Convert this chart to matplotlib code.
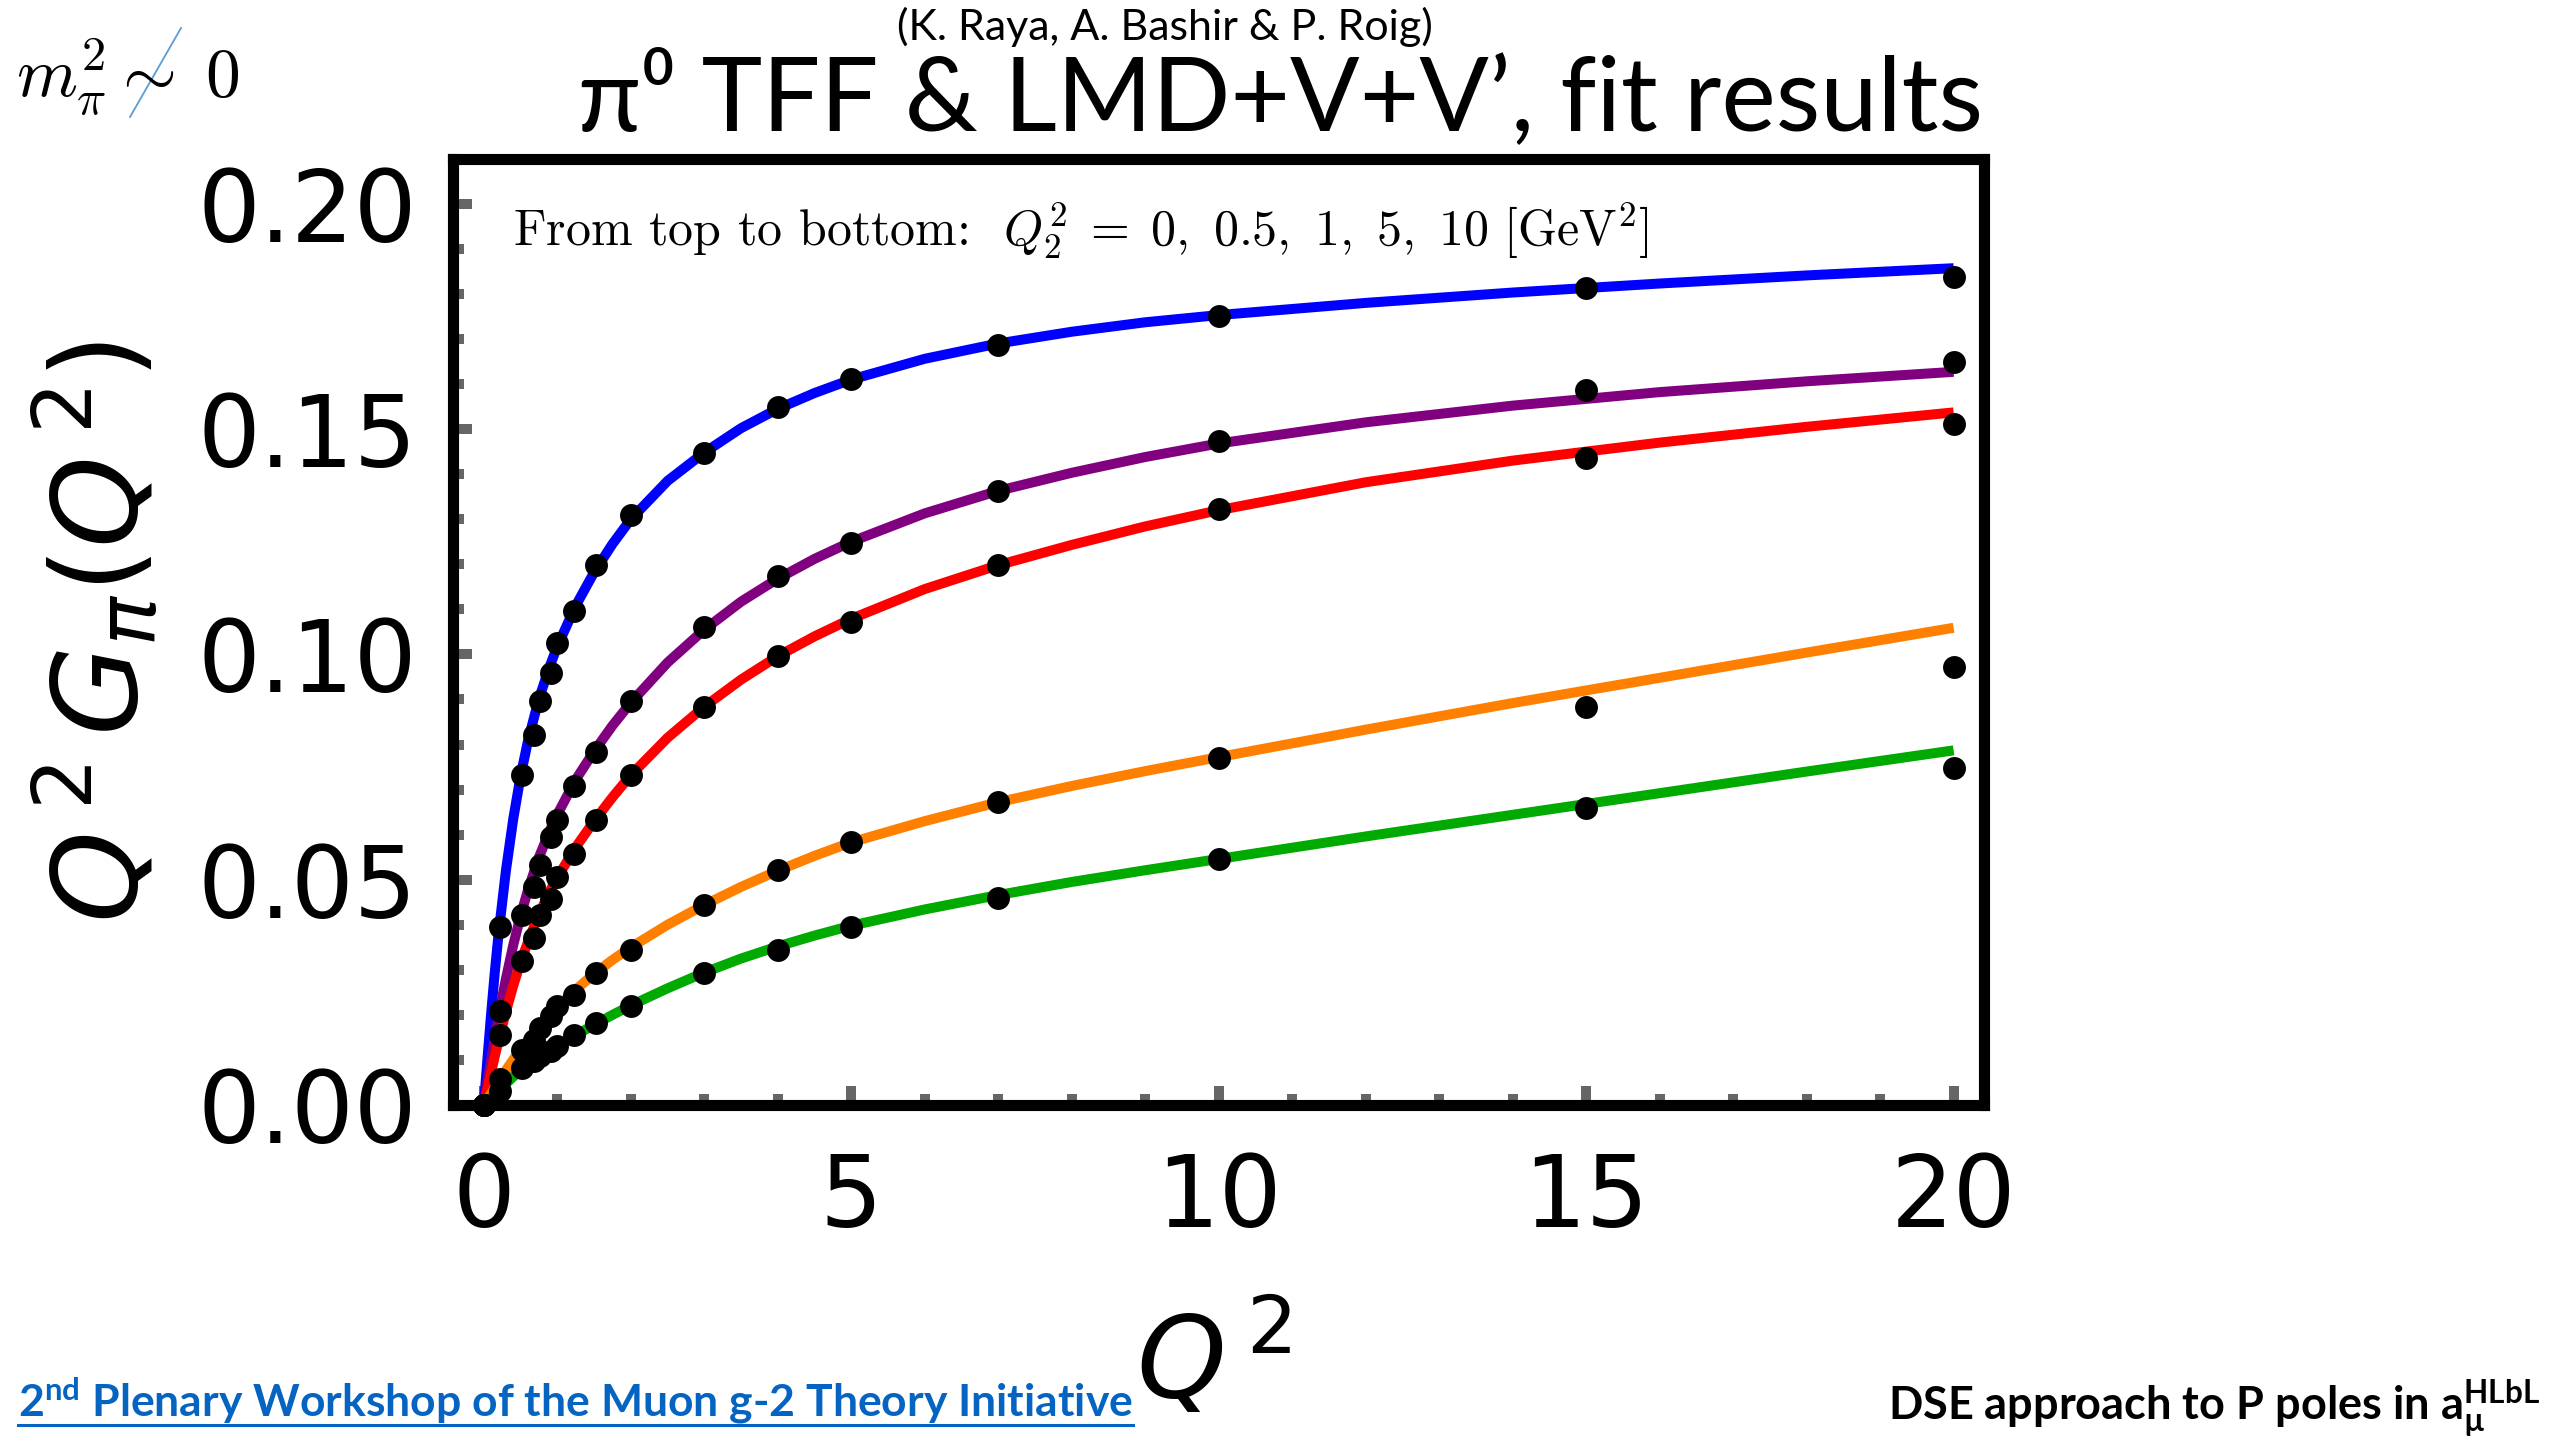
import matplotlib
matplotlib.use("Agg")
import matplotlib.pyplot as plt
from matplotlib.ticker import MultipleLocator
from matplotlib.lines import Line2D

# fit points, one list per Q2^2 value
q2_pts = [0, 0.22, 0.52, 0.68, 0.76, 0.91, 1.0, 1.22, 1.52, 2, 3, 4, 5, 7, 10, 15, 20]
pts_0 = [0, 0.0396, 0.0733, 0.0821, 0.0896, 0.0959, 0.1025, 0.1097, 0.1198, 0.1310,
         0.1448, 0.1549, 0.1611, 0.1687, 0.1750, 0.1813, 0.1837]
pts_05 = [0, 0.0208, 0.0421, 0.0483, 0.0533, 0.0595, 0.0633, 0.0709, 0.0783, 0.0896,
          0.1060, 0.1173, 0.1247, 0.1362, 0.1474, 0.1587, 0.1649]
pts_1 = [0, 0.0156, 0.0320, 0.0371, 0.0421, 0.0458, 0.0507, 0.0558, 0.0633, 0.0733,
         0.0883, 0.0997, 0.1071, 0.1198, 0.1323, 0.1436, 0.1511]
pts_5 = [0, 0.0058, 0.0123, 0.0145, 0.0171, 0.0197, 0.0219, 0.0245, 0.0294, 0.0345,
         0.0444, 0.0521, 0.0583, 0.0672, 0.0771, 0.0884, 0.0971]
pts_10 = [0, 0.0032, 0.0082, 0.0097, 0.0108, 0.0119, 0.0130, 0.0156, 0.0182, 0.0219,
          0.0294, 0.0345, 0.0396, 0.0459, 0.0546, 0.0660, 0.0747]

# LMD+V+V' fit curves, sampled by eye
q2_fit = [0, 0.05, 0.1, 0.15, 0.2, 0.3, 0.4, 0.5, 0.6, 0.75, 0.9, 1, 1.25, 1.5, 1.75,
          2, 2.5, 3, 3.5, 4, 4.5, 5, 6, 7, 8, 9, 10, 12, 14, 16, 18, 20]
fit_0 = [0, 0.0105, 0.0205, 0.0297, 0.0380, 0.0520, 0.0635, 0.0730, 0.0808, 0.0902,
         0.0975, 0.1018, 0.1108, 0.1182, 0.1245, 0.1300, 0.1385, 0.1448, 0.1502,
         0.1545, 0.1580, 0.1610, 0.1656, 0.1690, 0.1716, 0.1737, 0.1753, 0.1780,
         0.1803, 0.1823, 0.1841, 0.1857]
fit_05 = [0, 0.0052, 0.0102, 0.0150, 0.0196, 0.0280, 0.0355, 0.0420, 0.0477, 0.0550,
          0.0610, 0.0645, 0.0722, 0.0785, 0.0842, 0.0893, 0.0982, 0.1055, 0.1117,
          0.1168, 0.1212, 0.1250, 0.1313, 0.1363, 0.1403, 0.1438, 0.1468, 0.1515,
          0.1552, 0.1582, 0.1606, 0.1627]
fit_1 = [0, 0.0037, 0.0074, 0.0109, 0.0143, 0.0207, 0.0265, 0.0317, 0.0362, 0.0423,
         0.0475, 0.0505, 0.0572, 0.0630, 0.0683, 0.0732, 0.0815, 0.0884, 0.0944,
         0.0996, 0.1040, 0.1079, 0.1145, 0.1198, 0.1243, 0.1284, 0.1320, 0.1382,
         0.1430, 0.1470, 0.1505, 0.1537]
fit_5 = [0, 0.0013, 0.0026, 0.0039, 0.0052, 0.0077, 0.0101, 0.0123, 0.0144, 0.0173,
         0.0200, 0.0217, 0.0256, 0.0291, 0.0322, 0.0350, 0.0400, 0.0444, 0.0484,
         0.0520, 0.0553, 0.0583, 0.0630, 0.0672, 0.0708, 0.0741, 0.0772, 0.0833,
         0.0892, 0.0948, 0.1004, 0.1059]
fit_10 = [0, 0.0008, 0.0016, 0.0024, 0.0032, 0.0047, 0.0063, 0.0077, 0.0090, 0.0106,
          0.0121, 0.0131, 0.0155, 0.0178, 0.0200, 0.0221, 0.0259, 0.0294, 0.0325,
          0.0352, 0.0376, 0.0398, 0.0434, 0.0466, 0.0495, 0.0521, 0.0546, 0.0596,
          0.0644, 0.0692, 0.0740, 0.0787]

colors = ["#0000ff", "#800080", "#ff0000", "#ff8000", "#00aa00"]
x_ticks = [0, 5, 10, 15, 20]
y_ticks = [0, 0.05, 0.10, 0.15, 0.20]
y_tick_labels = ["0.00", "0.05", "0.10", "0.15", "0.20"]

W, H = 2554, 1440
fig = plt.figure(figsize=(W / 100, H / 100), dpi=100)
ax = fig.add_axes([453 / W, 1 - 1105 / H, 1531.5 / W, 946.3 / H])

fits = [fit_0, fit_05, fit_1, fit_5, fit_10]
points = [pts_0, pts_05, pts_1, pts_5, pts_10]
for ys, c in zip(fits, colors):
    ax.plot(q2_fit, ys, color=c, lw=7.2, solid_capstyle="butt",
            solid_joinstyle="round", zorder=2)
for ys in points:
    ax.plot(q2_pts, ys, "o", color="black", ms=16.5, mew=0, clip_on=False, zorder=4)

ax.set_xlim(-0.42, 20.42)
ax.set_ylim(0, 0.21)
ax.set_xticks(x_ticks)
ax.set_xticklabels([str(t) for t in x_ticks])
ax.set_yticks(y_ticks)
ax.set_yticklabels(y_tick_labels)
ax.xaxis.set_minor_locator(MultipleLocator(1))
ax.yaxis.set_minor_locator(MultipleLocator(0.01))
ax.tick_params(which="both", direction="in", color="#666666", width=7.2,
               top=False, right=False, labelsize=71)
ax.tick_params(which="major", length=13.5)
ax.tick_params(which="minor", length=8)
ax.tick_params(axis="x", pad=33)
ax.tick_params(axis="y", pad=26)
for s in ax.spines.values():
    s.set_linewidth(8)
    s.set_color("black")

ax.set_ylabel(r"$Q^{\,2}\,G_\pi(Q^{\,2})$", fontsize=84, va="center")
ax.yaxis.set_label_coords(-0.232, 0.50)
ax.set_xlabel(r"$Q^{\,2}$", fontsize=82, va="center")
ax.xaxis.set_label_coords(0.4966, -0.27)

ax.text(0.039, 0.908,
        r"From top to bottom:  $Q_2^2\;=\;0,\ 0.5,\ 1,\ 5,\ 10\ [\mathrm{GeV}^2]$",
        transform=ax.transAxes, family="cmr10", math_fontfamily="cm",
        fontsize=36, va="baseline")

# slide decorations
fig.text(1281 / W, 1 - 130 / H, "π⁰ TFF & LMD+V+V’, fit results",
         family=["Lato", "DejaVu Sans"], fontsize=74, ha="center", va="baseline")
fig.text(1165 / W, 1 - 40 / H, "(K. Raya, A. Bashir & P. Roig)",
         family=["Lato", "DejaVu Sans"], fontsize=31, ha="center", va="baseline")
fig.text(16 / W, 1 - 97 / H, r"$m_\pi^2 \sim\; 0$", math_fontfamily="cm",
         fontsize=50, va="baseline")
fig.add_artist(Line2D([181 / W, 130 / W], [1 - 28 / H, 1 - 117 / H],
                      transform=fig.transFigure, color="#5b9bd5", lw=1.3))

link = fig.text(18 / W, 1 - 1417 / H,
                r"2$^\mathdefault{nd}$ Plenary Workshop of the Muon g-2 Theory Initiative",
                family="Lato", fontweight="bold", fontsize=32, color="#0563c1",
                va="baseline")
fig.text(2540 / W, 1 - 1420 / H,
         r"DSE approach to P poles in a$_\mathdefault{µ}^\mathdefault{HLbL}$",
         family="Lato", fontweight="bold", fontsize=32.5, ha="right", va="baseline")

fig.canvas.draw()
bb = link.get_window_extent()
fig.add_artist(Line2D([bb.x0 / W, bb.x1 / W], [1 - 1425 / H, 1 - 1425 / H],
                      transform=fig.transFigure, color="#0563c1", lw=2.2))

fig.savefig("out.png", dpi=100)
